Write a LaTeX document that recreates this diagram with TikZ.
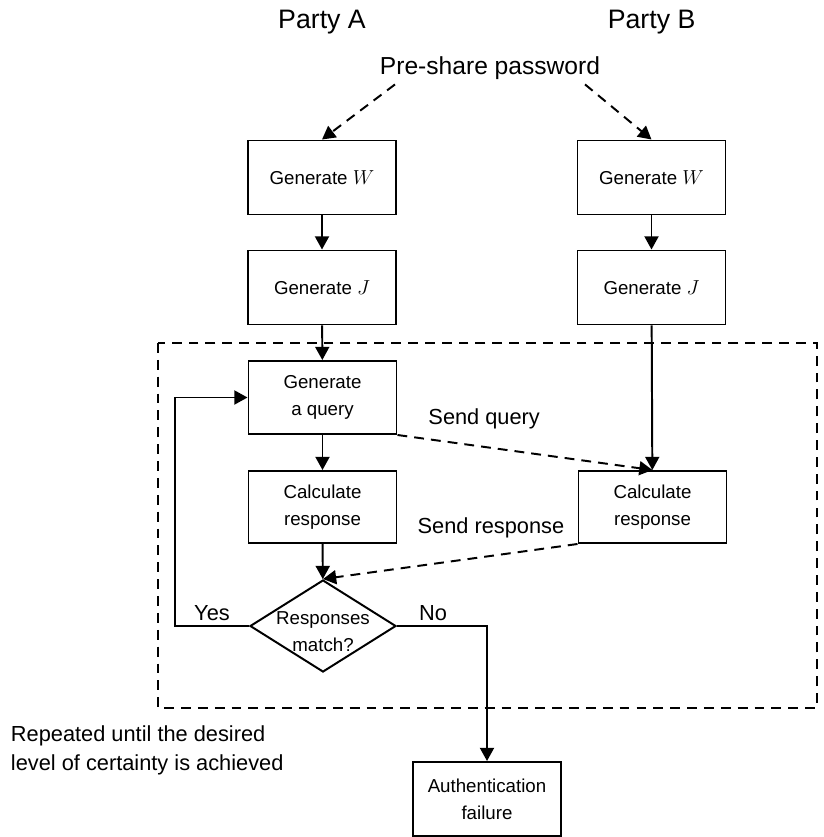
\documentclass[tikz,border=0pt]{standalone}
\usepackage{fontspec}
\setmainfont{Liberation Sans}
\usetikzlibrary{positioning, arrows.meta, calc, shapes.geometric}

\begin{document}
\begin{tikzpicture}[box/.style={draw,line width=1.4pt,align=center,minimum width=3.7cm,minimum height=1.85cm,inner sep=2pt,font=\fontsize{13.3}{19}\selectfont},arrow/.style={-{Triangle[length=3.3mm,width=3.5mm]},line width=1.4pt},dasharrow/.style={arrow,dash pattern=on 7pt off 5pt},heading/.style={font=\fontsize{19}{23}\selectfont},msg/.style={font=\fontsize{15.5}{19}\selectfont},note/.style={align=left,font=\fontsize{15.5}{20.6}\selectfont}]
\useasboundingbox (0,0) rectangle (20.575,-20.925);
\node[heading] (partyA) at (8.05,-0.55) {Party A};
\node[heading] (partyB) at (16.29,-0.55) {Party B};
\node[msg,font=\fontsize{17.5}{21}\selectfont] (pre) at (12.25,-1.7) {Pre-share password};
\node[box] (genWA) at (8.05,-4.4375) {Generate $W$};
\node[box] (genJA) at (8.05,-7.1875) {Generate $J$};
\node[box] (genWB) at (16.2875,-4.4375) {Generate $W$};
\node[box] (genJB) at (16.2875,-7.1875) {Generate $J$};
\draw[dasharrow] ([xshift=0.5cm]pre.south west) -- (genWA.north);
\draw[dasharrow] ([xshift=-0.5cm]pre.south east) -- (genWB.north);
\draw[arrow] (genWA) -- (genJA);
\draw[arrow] (genWB) -- (genJB);
% the repeated part
\draw[line width=1.4pt,dash pattern=on 7pt off 5pt] (3.95,-8.575) rectangle (20.425,-17.7);
\node[box,minimum height=1.825cm] (query) at (8.0625,-9.9375) {Generate\\a query};
\node[box,minimum height=1.8cm] (respA) at (8.0625,-12.675) {Calculate\\response};
\node[box,minimum height=1.8cm] (respB) at (16.3125,-12.675) {Calculate\\response};
\node[draw,diamond,line width=1.4pt,inner sep=0pt,minimum width=3.65cm,minimum height=2.3cm,label={[align=center,font=\fontsize{13.3}{19}\selectfont,yshift=-0.15cm]center:Responses\\match?}] (match) at (8.075,-15.65) {};
\draw[arrow] (genJA) -- (query);
\draw[arrow] (genJB) -- (respB);
\draw[arrow] (query) -- (respA);
\draw[arrow] (respA) -- (match);
\draw[dasharrow] (query.south east) -- node[msg,pos=0.34,yshift=0.69cm]{Send query} (respB.north);
\draw[dasharrow] (respB.south west) -- node[msg,pos=0.34,yshift=0.69cm]{Send response} (match.north);
\draw[arrow] (match.west) -- node[msg,above]{Yes} ++(-1.85,0) |- (query.west);
\node[box] (fail) at (12.175,-19.975) {Authentication\\failure};
\draw[arrow] (match.east) -| node[msg,pos=0.2,above]{No} (fail.north);
\node[note,anchor=west] (repeat) at (0.15,-18.75) {Repeated until the desired\\level of certainty is achieved};
\end{tikzpicture}
\end{document}
